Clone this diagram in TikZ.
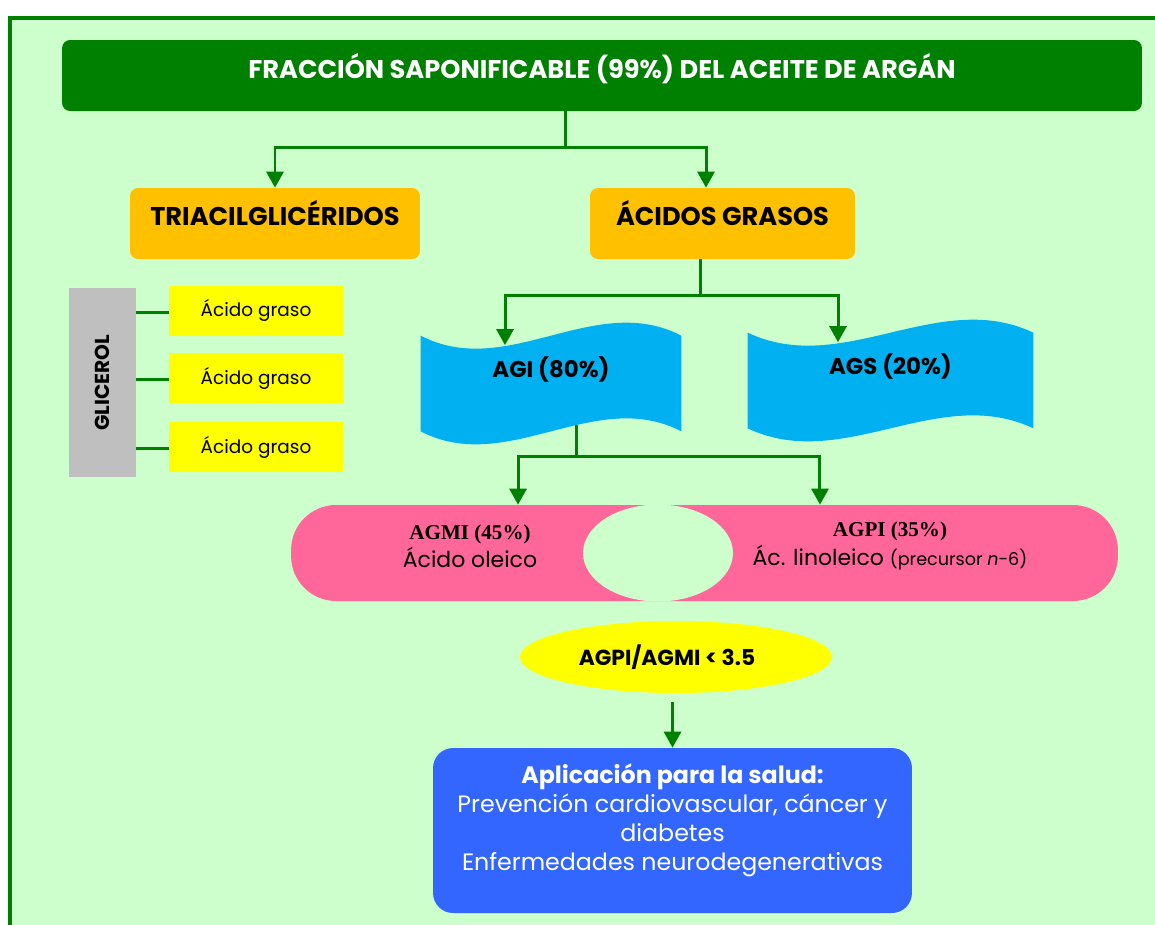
\documentclass[tikz,border=0pt]{standalone}
\usepackage{fontspec}
\setmainfont{Poppins}
\newfontfamily\serifa{Liberation Serif}
\usetikzlibrary{arrows.meta,shapes.geometric,calc}
\definecolor{fondo}{HTML}{CCFFCC}
\definecolor{verde}{HTML}{008000}
\definecolor{naranja}{HTML}{FFC000}
\definecolor{cian}{HTML}{00B0F0}
\definecolor{rosa}{HTML}{FF6699}
\definecolor{amarillo}{HTML}{FFFF00}
\definecolor{gris}{HTML}{BFBFBF}
\definecolor{azul}{HTML}{3366FF}
\pgfdeclarelayer{capa}
\pgfsetlayers{capa,main}
% forma de onda detras de los nodos AGI / AGS
\newcommand{\ola}[1]{%
  \fill[cian] (#1.north west)
    .. controls ($(#1.north west)!0.333!(#1.north east)+(0cm,-0.9cm)$)
    and ($(#1.north west)!0.667!(#1.north east)+(0cm,0.9cm)$) .. (#1.north east)
    -- (#1.south east)
    .. controls ($(#1.south west)!0.667!(#1.south east)+(0cm,0.9cm)$)
    and ($(#1.south west)!0.333!(#1.south east)+(0cm,-0.9cm)$) .. (#1.south west)
    -- cycle;}
\begin{document}
\begin{tikzpicture}[x=0.02cm,y=-0.02cm,
    conn/.style={draw=verde,line width=1.7pt},
    flecha/.style={conn,-{Triangle[length=0.32cm,width=0.34cm]}},
    titulo/.style={fill=verde,rounded corners=0.16cm,minimum width=21.6cm,minimum height=1.42cm,
      text=white,font=\bfseries\fontsize{14.6}{16}\selectfont,text height=0.3cm,text depth=0.2cm},
    caja/.style={fill=naranja,rounded corners=0.16cm,minimum height=1.42cm,
      font=\bfseries\fontsize{14.6}{16}\selectfont,text height=0.3cm,text depth=0.22cm},
    ola/.style={minimum height=1.9cm,font=\bfseries\fontsize{13}{15}\selectfont,
      text height=0.3cm,text depth=0.55cm},
    gris/.style={fill=gris,minimum width=1.34cm,minimum height=3.8cm,font=\bfseries\fontsize{11.5}{12}\selectfont},
    amar/.style={fill=amarillo,minimum width=3.48cm,minimum height=1cm,font=\fontsize{10.5}{12}\selectfont},
    banda/.style={fill=rosa,minimum width=16.54cm,minimum height=1.92cm,rounded corners=0.9cm},
    hueco/.style={ellipse,fill=fondo,minimum width=3cm,minimum height=1.94cm,inner sep=0pt},
    texto/.style={align=center,font=\fontsize{12.5}{16}\selectfont},
    elipse/.style={ellipse,fill=amarillo,minimum width=6.24cm,minimum height=1.44cm,inner sep=0pt,
      font=\bfseries\fontsize{12.4}{14}\selectfont},
    salud/.style={fill=azul,rounded corners=0.4cm,minimum width=9.58cm,minimum height=3.3cm,
      text=white,align=center,font=\fontsize{13.5}{16.5}\selectfont,text depth=0.55cm}]
  \useasboundingbox (0,0) rectangle (1155,924);
  \draw[verde,line width=2.3pt] (10,940) -- (10,18) -- (1170,18);

  \node[titulo] (frac) at (602,75.5) {FRACCIÓN SAPONIFICABLE (99\%) DEL ACEITE DE ARGÁN};
  \node[caja,minimum width=5.8cm] (tag) at (275,223.5) {TRIACILGLICÉRIDOS};
  \node[caja,minimum width=5.3cm] (ag) at (722.5,223.5) {ÁCIDOS GRASOS};

  \coordinate (j1) at (565,147);
  \draw[conn] (frac.south -| j1) -- (j1);
  \draw[flecha] (j1) -| (tag.north);
  \draw[flecha] (j1) -| ([xshift=-0.33cm]ag.north);

  % glicerol y acidos grasos
  \node[gris] (glic) at (102.5,382.5) {\rotatebox{90}{GLICEROL}};
  \foreach \y [count=\i] in {310.5,378,447} {
    \node[amar] (ac\i) at (256,\y) {Ácido graso};
    \draw[conn] ([yshift=-0.03cm]glic.east |- ac\i) -- ([yshift=-0.03cm]ac\i.west);
  }

  % AGI y AGS
  \node[ola,minimum width=5.2cm] (agi) at (551,383.5) {AGI (80\%)};
  \node[ola,minimum width=5.7cm] (ags) at (890.5,380.5) {AGS (20\%)};
  \begin{pgfonlayer}{capa}
    \fill[fondo] (10,18) rectangle (1170,940);
    \ola{agi}
    \ola{ags}
  \end{pgfonlayer}

  \coordinate (j2) at (700,295);
  \draw[conn] (ag.south -| j2) -- (j2);
  \draw[flecha] (j2) -| ([xshift=-0.92cm,yshift=-0.19cm]agi.north);
  \draw[flecha] (j2) -| ([xshift=-1.05cm,yshift=-0.19cm]ags.north);

  % AGMI y AGPI
  \node[banda] (band) at (704.5,553) {};
  \node[hueco] (gap) at (658,553) {};
  \node[texto] (agmi) at (470,546) {{\serifa\bfseries\fontsize{12}{16}\selectfont AGMI (45\%)}\\Ácido oleico};
  \node[texto] (agpi) at (890,546) {{\serifa\bfseries\fontsize{12}{16}\selectfont AGPI (35\%)}\\Ác. linoleico {\fontsize{10}{16}\selectfont(precursor \textit{n}-6)}};

  \coordinate (j3) at (576,456);
  \draw[conn] ([yshift=0.12cm]agi.south -| j3) -- (j3);
  \draw[flecha] (j3) -| ([xshift=-3.73cm]band.north);
  \draw[flecha] (j3) -| ([xshift=2.31cm]band.north);

  % relacion y aplicacion
  \node[elipse] (ratio) at (676,657) {\hspace*{-0.36cm}AGPI/AGMI < 3.5};
  \node[salud] (apl) at (672.5,830.5) {{\bfseries Aplicación para la salud:}\\Prevención cardiovascular, cáncer y\\diabetes\\Enfermedades neurodegenerativas};
  \draw[flecha] ([yshift=-0.18cm]ratio.south -| apl.north) -- (apl.north);
\end{tikzpicture}
\end{document}
